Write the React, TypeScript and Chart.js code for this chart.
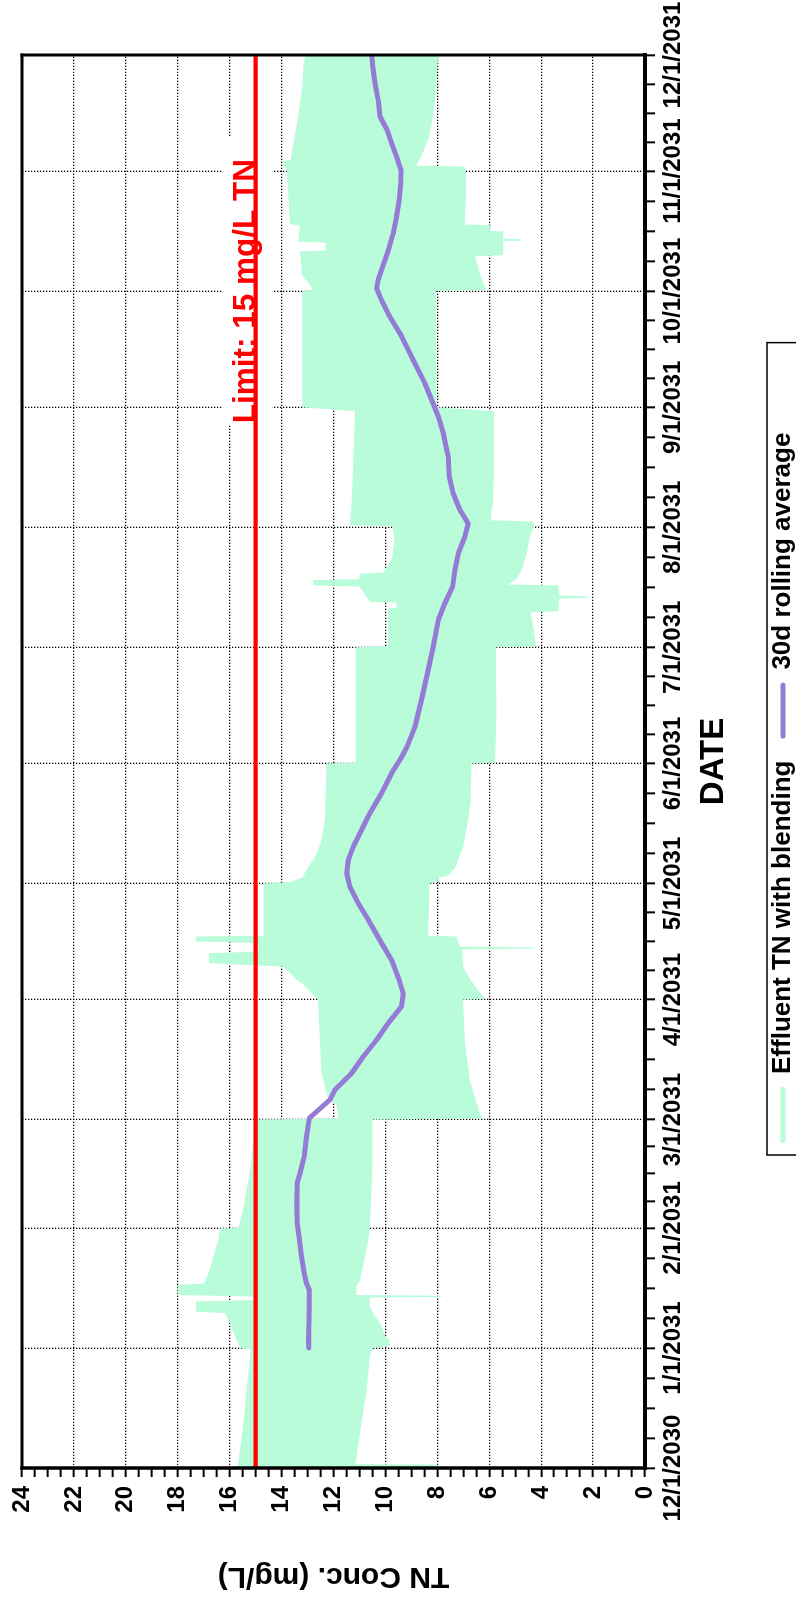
import React, { useEffect, useRef } from "react";
import { Chart, registerables } from "chart.js";

Chart.register(...registerables);

const FONT = "'Liberation Sans', Arial, Helvetica, sans-serif";

// x values are days since 12/1/2030
const monthDays = [0, 31, 62, 90, 121, 151, 182, 212, 243, 274, 304, 335, 365];
const monthLabels = [
  "12/1/2030", "1/1/2031", "2/1/2031", "3/1/2031", "4/1/2031", "5/1/2031", "6/1/2031",
  "7/1/2031", "8/1/2031", "9/1/2031", "10/1/2031", "11/1/2031", "12/1/2031",
];
const yMajorStep = 2;
const yMinorStep = 0.5;
const yMax = 24;

const seriesNames = ["Effluent TN with blending", "30d rolling average"];
const xTitle = "DATE";
const yTitle = "TN Conc. (mg/L)";
const limitValue = 15;
const limitLabel = "Limit: 15 mg/L TN";
const limitLabelDay = 304;

// Effluent TN band: upper edge [day, mg/L]
const envelopeUpper: [number, number][] = [
  [0, 15.7], [7, 15.55], [16, 15.4], [24.5, 15.28], [30.5, 15.2], [31, 15.6], [33, 15.73], [37.4, 16.0],
  [40, 16.18], [40.4, 17.3], [43, 17.3], [43.4, 15.1], [44.3, 15.1], [44.7, 18.0], [47.3, 18.0], [47.7, 17.0],
  [50.3, 16.82], [54.6, 16.63], [58.9, 16.44], [61.9, 16.37], [62, 15.67], [63.5, 15.6], [67, 15.48],
  [71.8, 15.35], [76, 15.24], [80.4, 15.15], [84.8, 15.1], [90, 15.08], [90.3, 11.8], [94, 11.9], [95, 12.2],
  [98, 12.3], [102, 12.46], [110, 12.52], [121, 12.6], [122.2, 12.78], [124.8, 13.16], [126.1, 13.42],
  [127.8, 13.68], [129.5, 13.93], [130.4, 16.8], [133, 16.8], [133.4, 14.9], [135.6, 14.9], [136, 17.3],
  [137.3, 17.3], [137.5, 14.7], [151, 14.7], [151.3, 13.7], [152.5, 13.2], [155, 13.0], [158, 12.7],
  [162, 12.46], [168, 12.33], [182, 12.27], [182.2, 11.15], [212, 11.15], [212.3, 9.9], [222, 9.9],
  [222.2, 9.57], [223.5, 9.57], [223.8, 10.6], [227.7, 11.0], [228, 12.78], [229.4, 12.78], [229.6, 11.0],
  [231, 11.0], [231.3, 10.08], [235, 9.75], [240, 9.65], [243.3, 9.75], [243.5, 11.37], [250, 11.3],
  [260, 11.24], [273, 11.17], [274, 13.2], [290, 13.2], [304, 13.2], [304.3, 12.78], [306, 12.95],
  [308, 13.2], [314.3, 13.3], [314.5, 12.3], [316.5, 12.3], [316.8, 13.36], [321, 13.3], [321.3, 13.68],
  [335, 13.8], [336.5, 13.93], [337.5, 13.93], [338, 13.65], [342.2, 13.55], [349, 13.36], [353.4, 13.27],
  [357.7, 13.19], [362, 13.16], [365, 13.1],
];

// Effluent TN band: lower edge [day, mg/L]
const envelopeLower: [number, number][] = [
  [0, 8.0], [0.9, 8.0], [1.0, 11.15], [3, 11.11], [11.6, 10.92], [20.2, 10.72], [28.8, 10.6], [31, 10.47],
  [31.5, 9.83], [33, 9.83], [34, 10.0], [37.4, 10.2], [40, 10.47], [41.7, 10.6], [44, 10.6], [44.2, 7.84],
  [44.5, 7.84], [44.7, 11.11], [47.3, 11.11], [48, 11.0], [50.3, 10.92], [54.6, 10.79], [58.9, 10.66],
  [62, 10.6], [70, 10.55], [80, 10.5], [90, 10.5], [90.3, 6.23], [91.5, 6.36], [95.7, 6.55], [100, 6.74],
  [106.3, 6.87], [110.6, 6.94], [119.2, 7.0], [121, 7.0], [121.2, 6.17], [124.5, 6.55], [127, 6.81],
  [129.5, 7.0], [134, 7.05], [134.2, 4.3], [134.5, 4.3], [134.7, 7.13], [137.3, 7.26], [137.5, 8.35],
  [151, 8.3], [151.5, 7.96], [152.5, 7.96], [153, 7.6], [155, 7.32], [160.5, 7.0], [166, 6.85], [172, 6.72],
  [182, 6.68], [182.2, 5.78], [195, 5.72], [212, 5.75], [212.3, 4.2], [217, 4.3], [221, 4.4], [221.3, 3.34],
  [224.5, 3.3], [224.8, 2.19], [225.1, 2.19], [225.4, 3.3], [228, 3.34], [228.2, 5.3], [229.5, 4.95],
  [232, 4.75], [236.3, 4.56], [240.6, 4.43], [243, 4.3], [244.5, 4.3], [244.8, 5.97], [250, 5.85],
  [260, 5.82], [273, 5.82], [274, 8.03], [290, 8.05], [304, 8.05], [304.3, 6.1], [306, 6.23], [308.5, 6.36],
  [313, 6.55], [313.3, 5.46], [317, 5.46], [317.2, 4.75], [317.4, 4.75], [317.6, 5.46], [319.4, 5.46],
  [319.6, 5.97], [321, 5.97], [321.2, 6.94], [328, 6.9], [335, 6.9], [336.2, 6.94], [336.4, 8.8],
  [340, 8.54], [344, 8.31], [349, 8.18], [353, 8.09], [357.7, 8.03], [362, 8.0], [365, 7.96],
];

// 30-day rolling average [day, mg/L]
const rollingAvg: [number, number][] = [
  [31, 12.95], [33, 12.96], [38, 12.94], [42, 12.93], [46, 12.93], [47.7, 13.04], [50.3, 13.13],
  [54.6, 13.23], [59.8, 13.33], [63.2, 13.4], [68.4, 13.42], [73.6, 13.4], [76.1, 13.29], [80.4, 13.13],
  [85.6, 13.04], [90.4, 12.93], [95.1, 12.14], [97.7, 11.94], [102, 11.3], [106.3, 10.85], [110.6, 10.34],
  [114.9, 9.89], [119.2, 9.38], [122.4, 9.31], [126.1, 9.47], [131.2, 9.76], [135.6, 10.15], [141.6, 10.66],
  [145.9, 11.05], [150.2, 11.37], [153.6, 11.49], [157.1, 11.43], [160.5, 11.24], [164.8, 10.92],
  [169.1, 10.6], [174.3, 10.15], [179.5, 9.76], [182.9, 9.44], [186.4, 9.16], [191.5, 8.86], [198.4, 8.61],
  [206.2, 8.35], [212.2, 8.16], [219.1, 7.96], [223.4, 7.71], [227.7, 7.41], [232, 7.32], [236.3, 7.19],
  [240.6, 6.94], [244, 6.81], [247.5, 7.13], [251.8, 7.39], [256.1, 7.54], [261.3, 7.58], [263, 7.64],
  [267.3, 7.77], [271.6, 7.96], [275.9, 8.22], [280.2, 8.48], [284.5, 8.8], [288.8, 9.12], [293.1, 9.44],
  [297.4, 9.83], [301.7, 10.15], [304.7, 10.34], [306.9, 10.28], [310.3, 10.11], [314.6, 9.89],
  [318.9, 9.7], [323.3, 9.57], [327.6, 9.47], [331.9, 9.41], [335.3, 9.4], [338.7, 9.57], [342.2, 9.76],
  [345.6, 9.93], [349.1, 10.21], [353.4, 10.28], [357.7, 10.4], [362, 10.49], [365, 10.53],
];

const MINT = "#B9FCD9";
const PURPLE = "#947CD6";
const RED = "#FF0000";

const W = 1614;
const H = 830;
const LEGEND_START = 471;
const LEGEND_PAD = 22;

const xTickValues: number[] = [];
for (let i = 0; i < monthDays.length - 1; i++) {
  const a = monthDays[i];
  const b = monthDays[i + 1];
  for (let k = 0; k < 4; k++) xTickValues.push(a + ((b - a) * k) / 4);
}
xTickValues.push(monthDays[monthDays.length - 1]);

const yTickValues: number[] = [];
for (let v = 0; v <= yMax + 1e-9; v += yMinorStep) yTickValues.push(v);

const toPts = (arr: [number, number][]) => arr.map(([x, y]) => ({ x, y }));

const limitLabelPlugin = {
  id: "limitLabel",
  beforeDatasetsDraw(chart: any) {
    const { ctx, scales } = chart;
    const x = scales.x;
    const y = scales.y;
    const size = 31.5;
    ctx.save();
    ctx.font = `bold ${size}px ${FONT}`;
    const w = ctx.measureText(limitLabel).width;
    const cx = x.getPixelForValue(limitLabelDay);
    const base = y.getPixelForValue(limitValue) - 1;
    const cap = size * 0.716;
    ctx.fillStyle = "#FFFFFF";
    ctx.fillRect(cx - w / 2 - 2, base - cap - 9, w + 25, cap + 9 + 17.5);
    ctx.fillStyle = RED;
    ctx.textAlign = "center";
    ctx.textBaseline = "alphabetic";
    ctx.fillText(limitLabel, cx, base);
    ctx.restore();
  },
};

const framePlugin = {
  id: "frame",
  afterDatasetsDraw(chart: any) {
    const { ctx, chartArea } = chart;
    const { left, right, top, bottom } = chartArea;
    ctx.save();
    ctx.strokeStyle = "#000";
    ctx.lineCap = "square";
    const seg = (x1: number, y1: number, x2: number, y2: number, w: number) => {
      ctx.lineWidth = w;
      ctx.beginPath();
      ctx.moveTo(x1, y1);
      ctx.lineTo(x2, y2);
      ctx.stroke();
    };
    seg(left, top, right, top, 3);
    seg(right, top, right, bottom, 3);
    seg(left, bottom, right, bottom, 4);
    seg(left, top, left, bottom, 3.5);
    ctx.restore();
  },
};

const legendPlugin = {
  id: "legendFrame",
  afterLayout(chart: any) {
    const lg = chart.legend;
    if (!lg || !lg.lineWidths) return;
    const start = (lg.left + LEGEND_PAD + lg.right - lg.lineWidths[0]) / 2;
    const shift = LEGEND_START - start;
    lg.left += shift;
    lg.right += shift;
  },
  afterDraw(chart: any) {
    const lg = chart.legend;
    const hb = lg && lg.legendHitBoxes;
    if (!hb || hb.length < 2) return;
    const { ctx } = chart;
    const last = hb[hb.length - 1];
    const left = hb[0].left - 12;
    const right = last.left + last.width + 90;
    const top = hb[0].top - 3;
    ctx.save();
    ctx.strokeStyle = "#000";
    ctx.lineWidth = 1.5;
    ctx.strokeRect(left, top, right - left, chart.height + 20 - top);
    ctx.restore();
  },
};

export default function App() {
  const canvasRef = useRef<HTMLCanvasElement>(null);

  useEffect(() => {
    const canvas = canvasRef.current;
    if (!canvas) return;
    const tickFont = { family: FONT, size: 24, weight: "bold" as const };
    const chart = new Chart(canvas, {
      type: "line",
      data: {
        datasets: [
          {
            label: seriesNames[0],
            data: toPts(envelopeUpper),
            borderColor: "rgba(0,0,0,0)",
            borderWidth: 0,
            backgroundColor: MINT,
            fill: "+1",
            pointRadius: 0,
            order: 4,
          },
          {
            label: "lower",
            data: toPts(envelopeLower),
            borderColor: "rgba(0,0,0,0)",
            borderWidth: 0,
            backgroundColor: MINT,
            fill: false,
            pointRadius: 0,
            order: 3,
          },
          {
            label: "limit",
            data: [
              { x: monthDays[0], y: limitValue },
              { x: monthDays[monthDays.length - 1], y: limitValue },
            ],
            borderColor: RED,
            borderWidth: 4.3,
            pointRadius: 0,
            fill: false,
            order: 1,
          },
          {
            label: seriesNames[1],
            data: toPts(rollingAvg),
            borderColor: PURPLE,
            borderWidth: 5,
            pointRadius: 0,
            fill: false,
            borderCapStyle: "round",
            borderJoinStyle: "round",
            order: 0,
          },
        ],
      },
      options: {
        responsive: false,
        animation: false,
        devicePixelRatio: 1,
        events: [],
        layout: { padding: { left: 0, right: 55, top: 22, bottom: 24 } },
        plugins: {
          filler: { drawTime: "beforeDatasetsDraw" },
          tooltip: { enabled: false },
          legend: {
            position: "bottom",
            labels: {
              font: { family: FONT, size: 26, weight: "bold" },
              color: "#000",
              boxWidth: 56,
              boxHeight: 5,
              padding: LEGEND_PAD,
              generateLabels: () => [
                { text: seriesNames[0], fillStyle: MINT, strokeStyle: MINT, lineWidth: 0, borderRadius: 2.5, hidden: false, datasetIndex: 0 },
                { text: seriesNames[1], fillStyle: PURPLE, strokeStyle: PURPLE, lineWidth: 0, borderRadius: 2.5, hidden: false, datasetIndex: 3 },
              ],
            },
          },
        },
        scales: {
          x: {
            type: "linear",
            min: monthDays[0],
            max: monthDays[monthDays.length - 1],
            afterBuildTicks: (s: any) => {
              s.ticks = xTickValues.map((v) => ({ value: v }));
            },
            afterFit: (s: any) => {
              s.height = 103;
              s.paddingLeft = 0;
              s.paddingRight = 0;
            },
            ticks: {
              autoSkip: false,
              maxRotation: 0,
              minRotation: 0,
              padding: 4,
              color: "#000",
              font: tickFont,
              callback: (v: any) => {
                const i = monthDays.indexOf(Number(v));
                return i >= 0 ? monthLabels[i] : "";
              },
            },
            grid: {
              color: (c: any) => (c.tick && monthDays.includes(c.tick.value) ? "#000" : "rgba(0,0,0,0)"),
              lineWidth: 1.3,
              tickLength: 10,
              tickWidth: 2,
              tickColor: "#000",
            },
            border: { display: false, dash: [1.3, 1.7] },
            title: {
              display: true,
              text: xTitle,
              color: "#000",
              font: { family: FONT, size: 33, weight: "bold" },
              padding: { top: 0, bottom: 14 },
            },
          },
          y: {
            type: "linear",
            min: 0,
            max: yMax,
            afterBuildTicks: (s: any) => {
              s.ticks = yTickValues.map((v) => ({ value: v }));
            },
            afterFit: (s: any) => {
              s.width = 146;
              s.paddingTop = 0;
              s.paddingBottom = 0;
            },
            ticks: {
              autoSkip: false,
              padding: 9,
              color: "#000",
              font: tickFont,
              callback: (v: any) => (Math.abs(Number(v) % yMajorStep) < 1e-9 ? String(v) : ""),
            },
            grid: {
              color: (c: any) => (c.tick && Math.abs(c.tick.value % yMajorStep) < 1e-9 ? "#000" : "rgba(0,0,0,0)"),
              lineWidth: 1.3,
              tickLength: 9,
              tickWidth: 2,
              tickColor: "#000",
            },
            border: { display: false, dash: [1.3, 1.7] },
            title: {
              display: true,
              text: yTitle,
              color: "#000",
              font: { family: FONT, size: 30, weight: "bold" },
              padding: { top: 20, bottom: 0 },
            },
          },
        },
      },
      plugins: [limitLabelPlugin, framePlugin, legendPlugin],
    } as any);
    return () => chart.destroy();
  }, []);

  return (
    <div
      style={{
        position: "fixed",
        left: 0,
        top: 0,
        width: 796,
        height: 1614,
        overflow: "hidden",
        background: "#FFFFFF",
      }}
    >
      <div
        style={{
          position: "absolute",
          left: 0,
          top: 0,
          width: W,
          height: H,
          transformOrigin: "0 0",
          transform: `translate(0px, ${W}px) rotate(-90deg)`,
        }}
      >
        <canvas ref={canvasRef} width={W} height={H} style={{ display: "block" }} />
      </div>
    </div>
  );
}
